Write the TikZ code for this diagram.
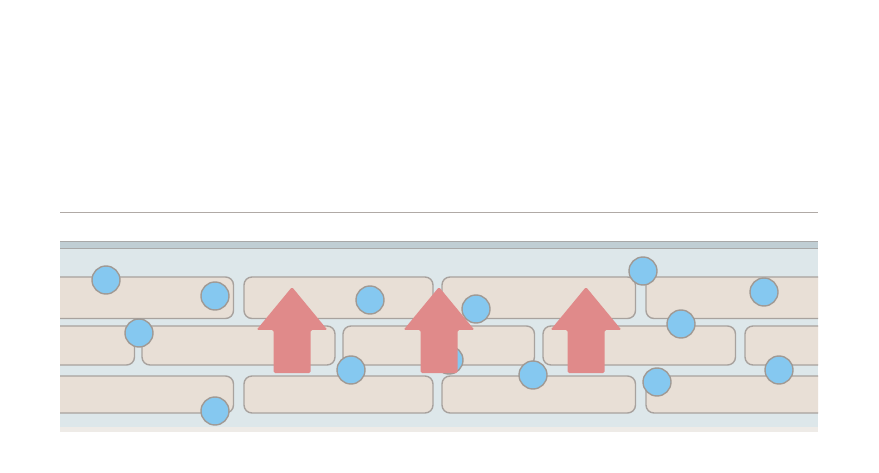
\documentclass[tikz,border=0pt]{standalone}
\usetikzlibrary{calc}
\definecolor{topline}{HTML}{B0AAA6}
\definecolor{stripfill}{HTML}{C0CED4}
\definecolor{stripline}{HTML}{A8A8A8}
\definecolor{bgblue}{HTML}{DDE7EA}
\definecolor{bgbottom}{HTML}{EEEBE7}
\definecolor{brickfill}{HTML}{E8DFD6}
\definecolor{brickline}{HTML}{A8A29E}
\definecolor{dotfill}{HTML}{85C8F0}
\definecolor{dotline}{HTML}{A09A95}
\definecolor{arrowred}{HTML}{E08A8A}
\tikzset{
  brick/.style={draw=brickline, fill=brickfill, line width=1.4pt, rounded corners=8pt},
  dot/.style={draw=dotline, fill=dotfill, line width=1.4pt},
  uparrow/.style={fill=arrowred, draw=none, rounded corners=1.5pt},
}
\newcommand{\myarrow}[2]{%
  \fill[uparrow] (#1-18.5,373) -- (#1-18.5,330) -- (#1-35.5,330) -- (#1,287)
    -- (#1+35.5,330) -- (#1+18.5,330) -- (#1+18.5,373) -- cycle;}
\begin{document}
\begin{tikzpicture}[x=1pt,y=-1pt]
\useasboundingbox (0,0) rectangle (879,473);
\fill[white] (0,0) rectangle (879,473);
% top line
\draw[topline, line width=1.5pt] (60,212.5) -- (818,212.5);
% band
\fill[bgbottom] (60,425) rectangle (818,432);
\fill[bgblue] (60,248) rectangle (818,426.5);
\fill[stripfill] (60,241) rectangle (818,248.5);
\draw[stripline, line width=1.3pt] (60,241.8) -- (818,241.8);
\draw[stripline, line width=1.3pt] (60,248.4) -- (818,248.4);
% bricks
\begin{scope}
\clip (60,241) rectangle (818,432);
% row 1
\draw[brick] (30,277) rectangle (233.5,318.5);
\draw[brick] (244,277) rectangle (433,318.5);
\draw[brick] (442,277) rectangle (635.5,318.5);
\draw[brick] (646,277) rectangle (850,318.5);
% row 2
\draw[brick] (20,326) rectangle (134.5,365);
\draw[brick] (142,326) rectangle (335,365);
\draw[brick] (343,326) rectangle (534.5,365);
\draw[brick] (543,326) rectangle (735.5,365);
\draw[brick] (745,326) rectangle (850,365);
% row 3
\draw[brick] (30,376) rectangle (233.5,413);
\draw[brick] (244,376) rectangle (433,413);
\draw[brick] (442,376) rectangle (635.5,413);
\draw[brick] (646,376) rectangle (850,413);
\end{scope}
% dots
\foreach \x/\y/\n in {106/280/d1, 215/296/d2, 139/333/d3, 215/411/d4, 370/300/d5,
  351/370/d6, 476/309/d7, 449/360/d8, 533/375/d9, 643/271/d10, 681/324/d11,
  764/292/d12, 657/382/d13, 779/370/d14}
  \draw[dot] (\x,\y) circle[radius=14];
% arrows
\myarrow{292}{a1}
\myarrow{439}{a2}
\myarrow{586}{a3}
\end{tikzpicture}
\end{document}
